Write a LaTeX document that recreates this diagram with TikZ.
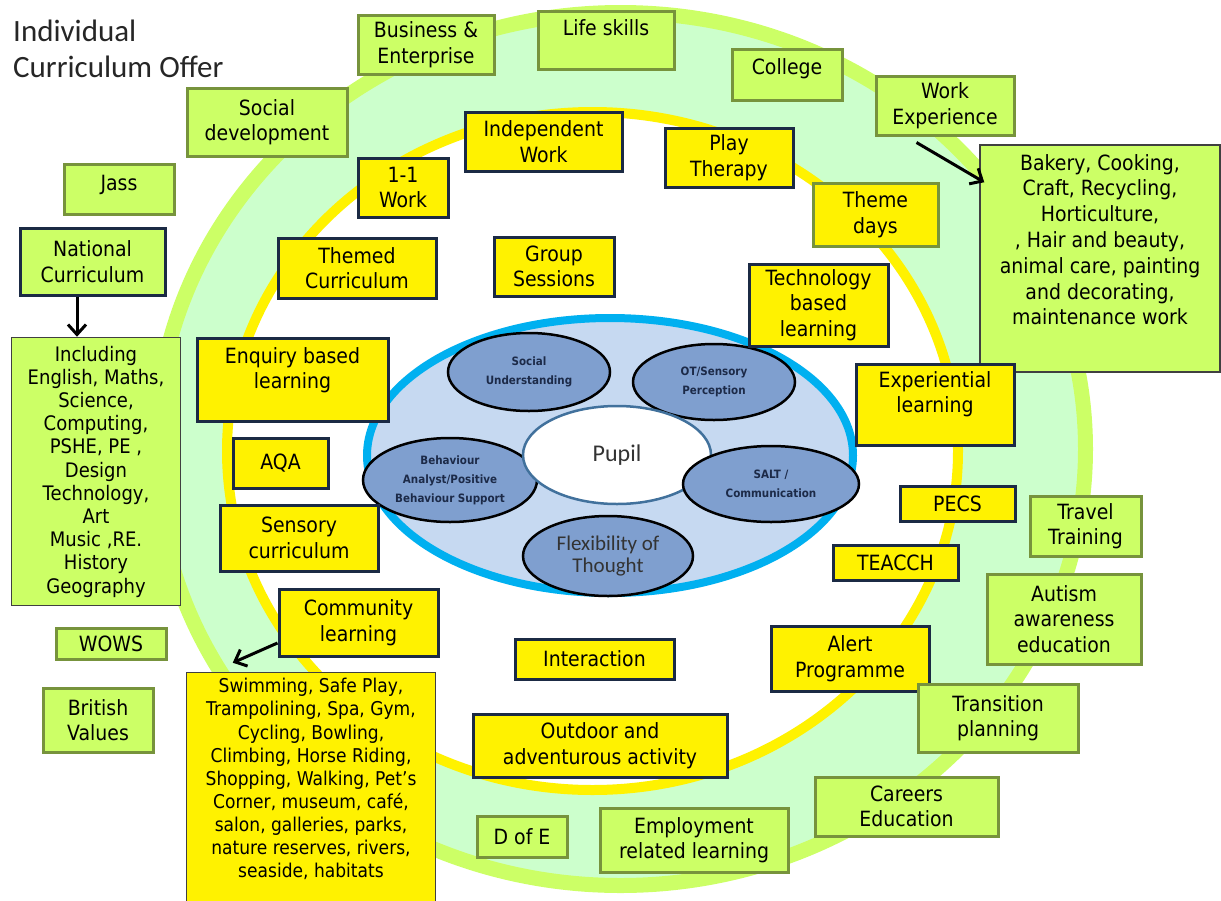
\documentclass[tikz,border=0pt]{standalone}
\usepackage{fontspec}
\setmainfont{Carlito}
\newfontfamily\comic{DejaVu Sans}[FakeStretch=0.9]
\usetikzlibrary{shapes.geometric,arrows.meta}
\definecolor{limefill}{HTML}{CCFF66}
\definecolor{oliveline}{HTML}{77933C}
\definecolor{mint}{HTML}{CCFFCC}
\definecolor{navyline}{HTML}{1B2A44}
\definecolor{ringcyan}{HTML}{00B0F0}
\definecolor{paleblue}{HTML}{C6D9F1}
\definecolor{topicblue}{HTML}{7F9FCF}
\definecolor{pupilline}{HTML}{41719C}
\definecolor{topictext}{HTML}{1C2A48}

\begin{document}
\begin{tikzpicture}[x=1pt, y=-1pt,
  every node/.style={font=\comic\fontsize{21}{25.5}\selectfont, align=center, inner sep=0pt},
  greenbox/.style={draw=oliveline, fill=limefill, line width=3pt},
  yellowbox/.style={draw=navyline, fill=yellow, line width=3pt},
  listbox/.style={draw=black!75, line width=1.5pt},
  topic/.style={ellipse, draw=black, line width=2.5pt, fill=topicblue, text=topictext,
    font=\comic\bfseries\fontsize{11.5}{19}\selectfont},
  link/.style={-{Straight Barb[length=10pt,width=18pt]}, line width=3pt}
]
\useasboundingbox (0,0) rectangle (1221,900);

% rings
\draw[line width=15pt, draw=limefill, fill=mint] (620.5,449) ellipse [x radius=465, y radius=436.5];
\draw[line width=10pt, draw=yellow, fill=white] (592.5,451) ellipse [x radius=365.5, y radius=339];
\draw[line width=8pt, draw=ringcyan, fill=paleblue] (610,455.5) ellipse [x radius=243, y radius=137.5];

\node[anchor=north west, align=left, text=black!85, font=\rmfamily\fontsize{31}{36}\selectfont] (title) at (13,20) {Individual\\Curriculum Offer};

% around the pupil
\node[topic, minimum width=162, minimum height=78] (social) at (529,372) {Social\\Understanding};
\node[topic, minimum width=162, minimum height=76] (otsensory) at (714,382) {OT/Sensory\\Perception};
\node[topic, minimum width=174, minimum height=84] (behaviour) at (450,480) {Behaviour\\Analyst/Positive\\Behaviour Support};
\node[topic, minimum width=170, minimum height=80, text=black!80,
  font=\rmfamily\mdseries\fontsize{21}{22}\selectfont] (flexibility) at (608,556) {Flexibility of\\Thought};
\node[ellipse, draw=pupilline, line width=2.5pt, fill=white, minimum width=188, minimum height=98,
  text=black!80, font=\rmfamily\fontsize{24}{29}\selectfont] (pupil) at (617,455) {Pupil};
\node[topic, minimum width=176, minimum height=76] (salt) at (771,484) {SALT /\\Communication};

% yellow ring
\node[yellowbox, minimum width=90, minimum height=59] (oneone) at (403,187.5) {1-1\\Work};
\node[yellowbox, minimum width=157, minimum height=59] (independent) at (543.5,141.5) {Independent\\Work};
\node[yellowbox, minimum width=128, minimum height=59] (play) at (729,157.5) {Play\\Therapy};
\node[yellowbox, draw=oliveline, minimum width=125, minimum height=63] (themedays) at (875.5,214.5) {Theme\\days};
\node[yellowbox, minimum width=120, minimum height=59] (group) at (554,266.5) {Group\\Sessions};
\node[yellowbox, minimum width=158, minimum height=60] (themedcur) at (357,268) {Themed\\Curriculum};
\node[yellowbox, minimum width=139, minimum height=82] (technology) at (818.5,305) {Technology\\based\\learning};
\node[yellowbox, minimum width=191, minimum height=83, text depth=23pt] (enquiry) at (292.5,379.5) {Enquiry based\\learning};
\node[yellowbox, minimum width=95, minimum height=50] (aqa) at (280.5,463) {AQA};
\node[yellowbox, minimum width=158, minimum height=66] (sensory) at (299,538) {Sensory\\curriculum};
\node[yellowbox, minimum width=115, minimum height=35] (pecs) at (957.5,503.5) {PECS};
\node[yellowbox, minimum width=125, minimum height=35] (teacch) at (895.5,562.5) {TEACCH};
\node[yellowbox, minimum width=158, minimum height=65] (alert) at (850,658.5) {Alert\\Programme};
\node[yellowbox, minimum width=159, minimum height=67] (community) at (358.5,622.5) {Community\\learning};
\node[yellowbox, minimum width=159, minimum height=40] (interaction) at (594.5,659) {Interaction};
\node[yellowbox, minimum width=254, minimum height=63] (outdoor) at (600,745.5) {Outdoor and\\adventurous activity};

% green ring
\node[greenbox, minimum width=136, minimum height=59] (business) at (426,44.5) {Business \&\\Enterprise};
\node[greenbox, minimum width=136, minimum height=58, text depth=25pt] (lifeskills) at (606,40) {Life skills};
\node[greenbox, minimum width=110, minimum height=51, text depth=16pt] (college) at (787,74.5) {College};
\node[greenbox, minimum width=138, minimum height=59] (workexp) at (945,105.5) {Work\\Experience};
\node[greenbox, minimum width=160, minimum height=68] (socialdev) at (267,122) {Social\\development};
\node[greenbox, minimum width=110, minimum height=50, text depth=12pt] (jass) at (119,189) {Jass};
\node[greenbox, draw=navyline, minimum width=145, minimum height=67] (national) at (92.5,261.5) {National\\Curriculum};
\node[greenbox, minimum width=110, minimum height=31] (wows) at (111,643.5) {WOWS};
\node[greenbox, minimum width=110, minimum height=64] (british) at (98,720) {British\\Values};
\node[greenbox, minimum width=90, minimum height=41] (dofe) at (522,836.5) {D of E};
\node[greenbox, minimum width=188, minimum height=64] (employment) at (694,840) {Employment\\related learning};
\node[greenbox, minimum width=183, minimum height=59] (careers) at (906.5,806.5) {Careers\\Education};
\node[greenbox, minimum width=160, minimum height=68] (transition) at (998,718) {Transition\\planning};
\node[greenbox, minimum width=154, minimum height=90] (autism) at (1064,619) {Autism\\awareness\\education};
\node[greenbox, minimum width=111, minimum height=60] (travel) at (1085.5,526) {Travel\\Training};

% lists
\node[listbox, fill=limefill, minimum width=240, minimum height=227, text depth=38pt,
  font=\comic\fontsize{21}{25.8}\selectfont] (bakery) at (1100,258.5)
  {Bakery, Cooking,\\Craft, Recycling,\\Horticulture,\\, Hair and beauty,\\animal care, painting\\and decorating,\\maintenance work};
\node[yellowbox, minimum width=158, minimum height=81, text depth=25pt] (experiential) at (935,404.5) {Experiential\\learning};
\node[listbox, fill=limefill, minimum width=169, minimum height=268,
  font=\comic\fontsize{20}{23.2}\selectfont] (including) at (96,471.5)
  {Including\\English, Maths,\\Science,\\Computing,\\PSHE,  PE ,\\Design\\Technology,\\Art\\Music ,RE.\\History\\Geography};
\node[listbox, fill=yellow, minimum width=249, minimum height=232, text depth=21pt,
  font=\comic\fontsize{19}{23.1}\selectfont] (swimming) at (311,788.5)
  {Swimming, Safe Play,\\Trampolining, Spa, Gym,\\Cycling, Bowling,\\Climbing, Horse Riding,\\Shopping, Walking, Pet’s\\Corner, museum, café,\\salon, galleries, parks,\\nature reserves, rivers,\\seaside, habitats};

\draw[link] ([xshift=-15.5pt]national.south) -- ([xshift=-19pt]including.north);
\draw[link] ([xshift=42pt,yshift=-6pt]workexp.south west) -- ([xshift=5pt,yshift=-38pt]bakery.north west);
\draw[link] ([yshift=-20.5pt]community.west) -- ([xshift=47pt,yshift=9pt]swimming.north west);
\end{tikzpicture}
\end{document}
